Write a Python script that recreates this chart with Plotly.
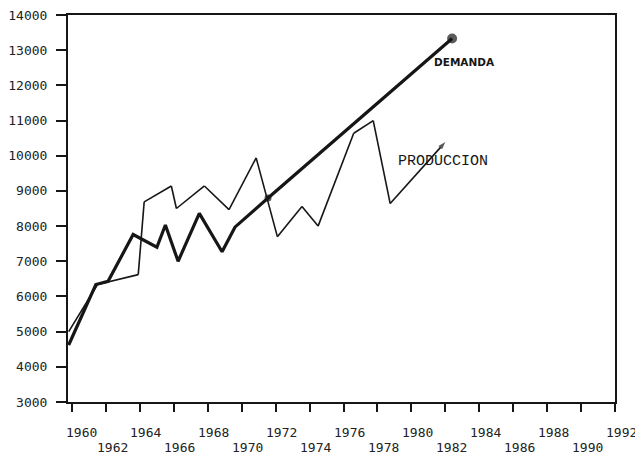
import plotly.graph_objects as go

# ---- data ----
demanda_year = [1959.8, 1961.4, 1962.12, 1963.6, 1965.0, 1965.5, 1966.25, 1967.5, 1968.84, 1969.6, 1971.55, 1982.4]
demanda_val = [4620, 6340, 6430, 7760, 7400, 8030, 7000, 8360, 7270, 7970, 8800, 13330]

produccion_year = [1959.8, 1961.5, 1963.9, 1964.25, 1965.85, 1966.15, 1967.8, 1969.25, 1970.85,
                   1972.1, 1973.55, 1974.5, 1976.6, 1977.75, 1978.75, 1982.0]
produccion_val = [5000, 6340, 6620, 8690, 9140, 8500, 9140, 8470, 9940,
                  7700, 8560, 8000, 10640, 11000, 8640, 10390]

y_ticks = [3000, 4000, 5000, 6000, 7000, 8000, 9000, 10000, 11000, 12000, 13000, 14000]
x_ticks = list(range(1960, 1993, 2))
x_tick_labels = [str(v) for v in x_ticks]

INK = "#161616"

fig = go.Figure()

d_sizes = [0] * len(demanda_year)
d_sizes[10] = 7
d_sizes[-1] = 10
fig.add_trace(go.Scatter(
    x=demanda_year, y=demanda_val, mode="lines+markers", name="DEMANDA",
    line=dict(color=INK, width=3.2),
    marker=dict(size=d_sizes, color=INK, line=dict(width=0)),
))

p_sizes = [0] * len(produccion_year)
p_sizes[-1] = 8
fig.add_trace(go.Scatter(
    x=produccion_year, y=produccion_val, mode="lines+markers", name="PRODUCCION",
    line=dict(color=INK, width=1.6),
    marker=dict(size=p_sizes, color=INK, symbol="arrow", angleref="previous", line=dict(width=0)),
))

# series labels
fig.add_annotation(x=1983.15, y=12670, xref="x", yref="y", text="<b>DEMANDA</b>", showarrow=False,
                   font=dict(family="DejaVu Sans", size=10.5, color=INK))
fig.add_annotation(x=1981.85, y=9840, xref="x", yref="y", text="PRODUCCION", showarrow=False,
                   font=dict(family="Liberation Mono", size=15, color=INK))

# staggered x tick labels
for i, (v, lab) in enumerate(zip(x_ticks, x_tick_labels)):
    fig.add_annotation(x=v, y=0, xref="x", yref="paper", text=lab, showarrow=False,
                       yanchor="middle", xshift=6 if i else 9, yshift=-30 if i % 2 == 0 else -45,
                       font=dict(family="DejaVu Sans Mono", size=13, color="#222"))

fig.update_layout(
    width=635, height=450,
    margin=dict(l=60, r=28, t=7, b=56),
    paper_bgcolor="white", plot_bgcolor="white",
    showlegend=False,
    xaxis=dict(range=[1959.76, 1992], tickvals=x_ticks, showticklabels=False,
               ticks="outside", ticklen=8, tickwidth=2, tickcolor=INK,
               showline=True, linewidth=2, linecolor=INK, mirror=True,
               showgrid=False, zeroline=False, automargin=False),
    yaxis=dict(range=[3000, 14000], tickvals=y_ticks, ticktext=[str(v) for v in y_ticks],
               ticks="outside", ticklen=10, tickwidth=2, tickcolor=INK,
               ticklabelstandoff=6, ticklabeloverflow="allow",
               tickfont=dict(family="DejaVu Sans Mono", size=13, color="#222"),
               showline=True, linewidth=2, linecolor=INK, mirror=True,
               showgrid=False, zeroline=False, automargin=False),
)

fig.write_html("out.html")
